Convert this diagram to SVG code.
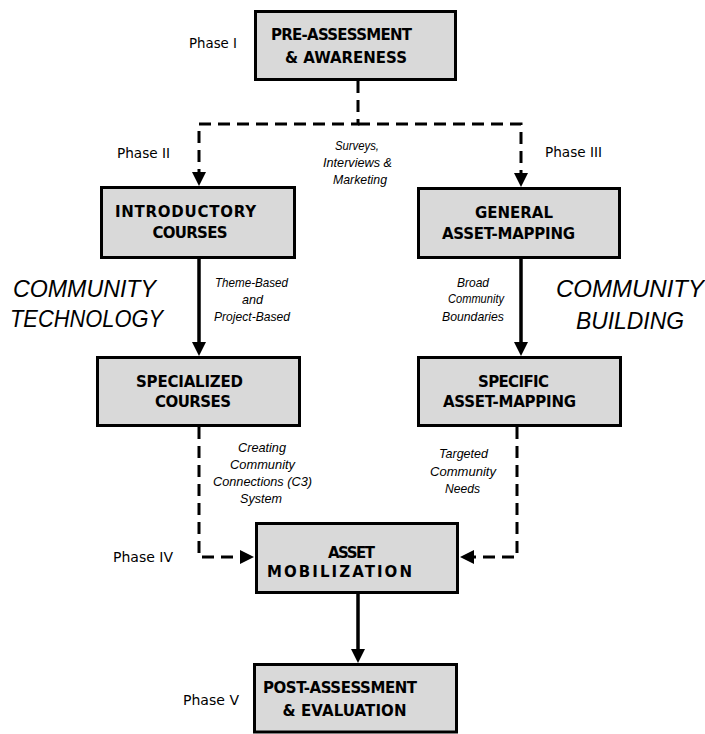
<svg xmlns="http://www.w3.org/2000/svg" width="705" height="734" viewBox="0 0 705 734">
<style>
.box{fill:#d9d9d9;stroke:#000;stroke-width:3}
.bt{font-family:"DejaVu Sans","Liberation Sans",sans-serif;font-weight:bold;font-size:15px;fill:#000;text-anchor:middle}
.ph{font-family:"DejaVu Sans","Liberation Sans",sans-serif;font-size:14px;fill:#000}
.lb{font-family:"Liberation Sans",Arial,sans-serif;font-style:italic;font-size:13px;fill:#000;text-anchor:middle}
.big{font-family:"Liberation Sans",Arial,sans-serif;font-style:italic;font-size:24px;fill:#000}
.solid{fill:none;stroke:#000;stroke-width:3.5}
.dash{fill:none;stroke:#000;stroke-width:3;stroke-dasharray:12 7}
</style>
<defs>
<marker id="ah" markerUnits="userSpaceOnUse" markerWidth="16" markerHeight="16" refX="9" refY="7" orient="auto">
<path d="M0,0 L14,7 L0,14 z" fill="#000"/>
</marker>
</defs>
<rect width="705" height="734" fill="#fff"/>
<g id="connectors">
<path class="dash" d="M358,81 V124 H199 V181" marker-end="url(#ah)"/>
<path class="dash" d="M358,124 H521 V182" marker-end="url(#ah)"/>
<path class="solid" d="M199,259 V351" marker-end="url(#ah)"/>
<path class="solid" d="M521,259 V351" marker-end="url(#ah)"/>
<path class="dash" d="M199,427 V557 H249" marker-end="url(#ah)"/>
<path class="dash" d="M517,427 V557 H465" marker-end="url(#ah)"/>
<path class="solid" d="M358,594 V658" marker-end="url(#ah)"/>
</g>
<g id="labels">
<text class="lb" x="357" y="150" textLength="44" lengthAdjust="spacingAndGlyphs">Surveys,</text>
<text class="lb" x="357.5" y="167" textLength="69" lengthAdjust="spacingAndGlyphs">Interviews &amp;</text>
<text class="lb" x="360" y="184" textLength="54" lengthAdjust="spacingAndGlyphs">Marketing</text>
<text class="lb" x="251.5" y="287" textLength="73" lengthAdjust="spacingAndGlyphs">Theme-Based</text>
<text class="lb" x="252.5" y="304" textLength="21" lengthAdjust="spacingAndGlyphs">and</text>
<text class="lb" x="252" y="321" textLength="76" lengthAdjust="spacingAndGlyphs">Project-Based</text>
<text class="lb" x="473" y="287" textLength="32" lengthAdjust="spacingAndGlyphs">Broad</text>
<text class="lb" x="476" y="303" textLength="56" lengthAdjust="spacingAndGlyphs">Community</text>
<text class="lb" x="473" y="321" textLength="62" lengthAdjust="spacingAndGlyphs">Boundaries</text>
<text class="lb" x="262" y="452" textLength="48" lengthAdjust="spacingAndGlyphs">Creating</text>
<text class="lb" x="262.5" y="469" textLength="65" lengthAdjust="spacingAndGlyphs">Community</text>
<text class="lb" x="262.5" y="486" textLength="99" lengthAdjust="spacingAndGlyphs">Connections (C3)</text>
<text class="lb" x="261" y="503" textLength="42" lengthAdjust="spacingAndGlyphs">System</text>
<text class="lb" x="463.5" y="458" textLength="49" lengthAdjust="spacingAndGlyphs">Targeted</text>
<text class="lb" x="463" y="476" textLength="66" lengthAdjust="spacingAndGlyphs">Community</text>
<text class="lb" x="462.5" y="493" textLength="35" lengthAdjust="spacingAndGlyphs">Needs</text>
<text class="ph" x="189" y="48" textLength="48" lengthAdjust="spacingAndGlyphs">Phase I</text>
<text class="ph" x="117" y="158" textLength="53" lengthAdjust="spacingAndGlyphs">Phase II</text>
<text class="ph" x="545" y="157" textLength="57" lengthAdjust="spacingAndGlyphs">Phase III</text>
<text class="ph" x="113" y="562" textLength="60" lengthAdjust="spacingAndGlyphs">Phase IV</text>
<text class="ph" x="183" y="705" textLength="56" lengthAdjust="spacingAndGlyphs">Phase V</text>
<text class="big" x="13" y="297" textLength="143" lengthAdjust="spacingAndGlyphs">COMMUNITY</text>
<text class="big" x="10" y="327" textLength="153" lengthAdjust="spacingAndGlyphs">TECHNOLOGY</text>
<text class="big" x="556" y="297" textLength="148" lengthAdjust="spacingAndGlyphs">COMMUNITY</text>
<text class="big" x="576" y="329" textLength="108" lengthAdjust="spacingAndGlyphs">BUILDING</text>
</g>
<g id="n1">
<rect class="box" x="255.5" y="11.5" width="200" height="68"/>
<text class="bt" x="341.5" y="40" textLength="141" lengthAdjust="spacing">PRE-ASSESSMENT</text>
<text class="bt" x="346" y="63" textLength="122" lengthAdjust="spacing">&amp; AWARENESS</text>
</g>
<g id="n2">
<rect class="box" x="101.5" y="187.5" width="193" height="70"/>
<text class="bt" x="185.5" y="217" textLength="141" lengthAdjust="spacing">INTRODUCTORY</text>
<text class="bt" x="190" y="238" textLength="75" lengthAdjust="spacing">COURSES</text>
</g>
<g id="n3">
<rect class="box" x="418.5" y="188.5" width="201" height="69"/>
<text class="bt" x="514" y="218" textLength="78" lengthAdjust="spacing">GENERAL</text>
<text class="bt" x="508.5" y="239" textLength="133" lengthAdjust="spacing">ASSET-MAPPING</text>
</g>
<g id="n4">
<rect class="box" x="97.5" y="357.5" width="202" height="68"/>
<text class="bt" x="189.5" y="387" textLength="107" lengthAdjust="spacing">SPECIALIZED</text>
<text class="bt" x="193" y="407" textLength="76" lengthAdjust="spacing">COURSES</text>
</g>
<g id="n5">
<rect class="box" x="418.5" y="357.5" width="202" height="68"/>
<text class="bt" x="513.5" y="387" textLength="71" lengthAdjust="spacing">SPECIFIC</text>
<text class="bt" x="509.5" y="407" textLength="133" lengthAdjust="spacing">ASSET-MAPPING</text>
</g>
<g id="n6">
<rect class="box" x="256.5" y="523.5" width="201" height="69"/>
<text class="bt" x="351.5" y="558" textLength="47" lengthAdjust="spacing">ASSET</text>
<text class="bt" x="339.5" y="577" textLength="145" lengthAdjust="spacing">MOBILIZATION</text>
</g>
<g id="n7">
<rect class="box" x="254.5" y="664.5" width="202" height="67.5"/>
<text class="bt" x="340" y="693" textLength="154" lengthAdjust="spacing">POST-ASSESSMENT</text>
<text class="bt" x="344.5" y="716" textLength="124" lengthAdjust="spacing">&amp; EVALUATION</text>
</g>
</svg>
